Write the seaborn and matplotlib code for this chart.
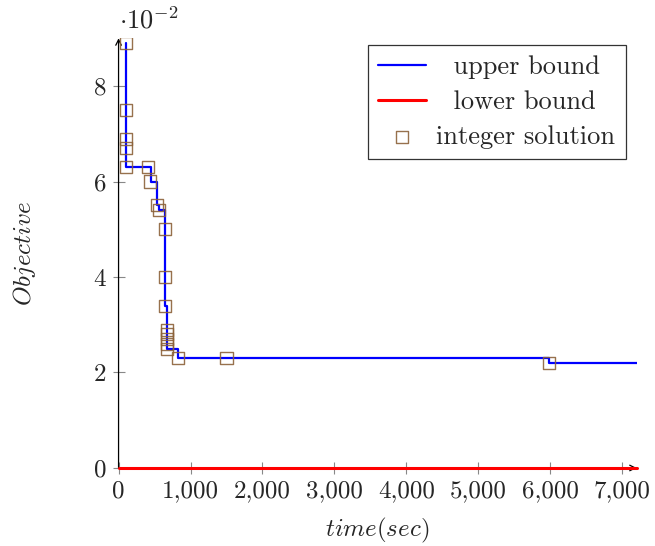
import matplotlib
matplotlib.use("Agg")
import matplotlib.pyplot as plt
import matplotlib.ticker as mticker
import pandas as pd
import seaborn as sns

# upper bound (step curve)
ub_time = [100, 100, 450, 540, 560, 647, 679, 823, 5980, 7200]
ub_obj = [0.089, 0.063, 0.060, 0.055, 0.054, 0.034, 0.025, 0.023, 0.022, 0.022]

# lower bound
lb_time = [0, 7200]
lb_obj = [0.0, 0.0]

# integer solutions found
int_time = [100, 100, 100, 100, 100, 410, 438, 535, 563, 647, 647, 647,
            670, 670, 670, 670, 670, 830, 1500, 5980]
int_obj = [0.089, 0.075, 0.069, 0.067, 0.063, 0.063, 0.060, 0.055, 0.054, 0.050, 0.040, 0.034,
           0.029, 0.028, 0.027, 0.026, 0.025, 0.023, 0.023, 0.022]

sns.set_style("ticks")
plt.rcParams["font.family"] = ["cmr10", "DejaVu Serif"]
plt.rcParams["mathtext.fontset"] = "cm"
plt.rcParams["axes.formatter.use_mathtext"] = True
plt.rcParams["axes.unicode_minus"] = False

fs = 18
fig = plt.figure(figsize=(6.55, 5.46), dpi=100)
ax = fig.add_axes([0.181, 0.1429, 0.791, 0.787])

ub = pd.DataFrame({"time": ub_time, "obj": ub_obj})
lb = pd.DataFrame({"time": lb_time, "obj": lb_obj})
pts = pd.DataFrame({"time": int_time, "obj": int_obj})

sns.lineplot(data=ub, x="time", y="obj", ax=ax, color="#0000ff", lw=1.6,
             estimator=None, sort=False, drawstyle="steps-post", label="  upper bound", zorder=3)
sns.lineplot(data=lb, x="time", y="obj", ax=ax, color="#ff0000", lw=2.2,
             estimator=None, sort=False, label="  lower bound", zorder=5, clip_on=False)
sns.scatterplot(data=pts, x="time", y="obj", ax=ax, marker="s", s=75,
                facecolor="none", edgecolor="#8c6239", linewidth=1.0, alpha=0.9,
                label="integer solution", zorder=4)

ax.set_xlim(0, 7200)
ax.set_ylim(0, 0.09)
ax.set_xticks([0, 1000, 2000, 3000, 4000, 5000, 6000, 7000])
ax.set_yticks([0, 0.02, 0.04, 0.06, 0.08])
ax.xaxis.set_major_formatter(mticker.FuncFormatter(lambda v, p: f"{int(v):,}"))
ax.yaxis.set_major_formatter(mticker.FuncFormatter(lambda v, p: f"{round(v * 100):d}"))
ax.tick_params(axis="both", direction="inout", length=8, width=0.8, color="#888888",
               labelsize=fs, pad=5)

for side in ["top", "right", "left", "bottom"]:
    ax.spines[side].set_visible(False)
# axis lines with arrow heads
ax.annotate("", xy=(1.0, 0), xytext=(0, 0), xycoords="axes fraction",
            arrowprops=dict(arrowstyle="->", color="black", lw=0.9, shrinkA=0, shrinkB=0), zorder=1)
ax.annotate("", xy=(0, 1.0), xytext=(0, 0), xycoords="axes fraction",
            arrowprops=dict(arrowstyle="->", color="black", lw=0.9, shrinkA=0, shrinkB=0), zorder=1)

ax.text(0.0, 1.012, r"$\cdot 10^{-2}$", transform=ax.transAxes, fontsize=fs + 1,
        ha="left", va="bottom")

ax.set_xlabel(r"$time(sec)$", fontsize=fs)
ax.set_ylabel(r"$Objective$", fontsize=fs)
ax.xaxis.set_label_coords(0.5, -0.112)
ax.yaxis.set_label_coords(-0.155, 0.5)

leg = ax.legend(loc="upper right", bbox_to_anchor=(626 / 655, 1 - 45 / 546),
                bbox_transform=fig.transFigure, borderaxespad=0, fontsize=fs + 1,
                fancybox=False, frameon=True, edgecolor="black", handlelength=1.8,
                labelspacing=0.42, borderpad=0.4, handletextpad=0.4)
leg.get_frame().set_linewidth(0.9)

fig.savefig("out.png", dpi=100)
